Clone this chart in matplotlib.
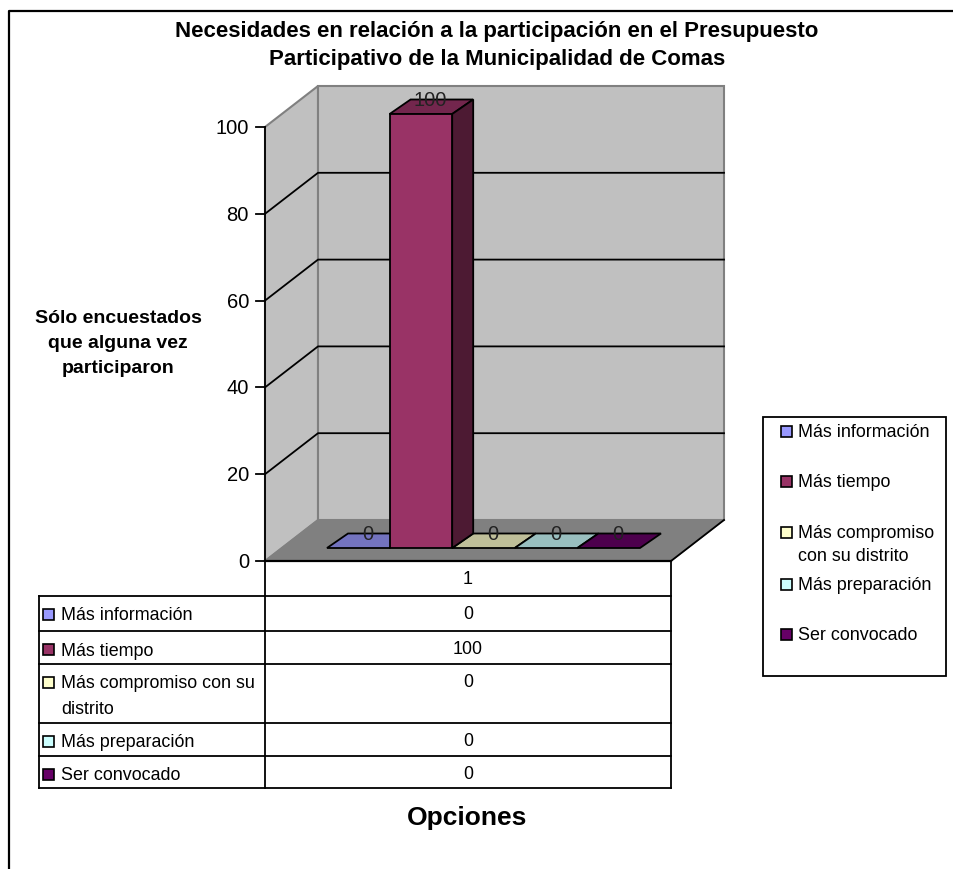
import matplotlib
matplotlib.use("Agg")
import matplotlib.pyplot as plt
from matplotlib.patches import Polygon, Rectangle

plt.rcParams['font.family'] = ['Liberation Sans', 'DejaVu Sans']

# datos del grafico
titulo = "Necesidades en relación a la participación en el Presupuesto\nParticipativo de la Municipalidad de Comas"
eje_y = "Sólo encuestados\nque alguna vez\nparticiparon"
eje_x = "Opciones"
categoria = "1"
series = ["Más información", "Más tiempo", "Más compromiso con su\ndistrito", "Más preparación", "Ser convocado"]
series_leyenda = ["Más información", "Más tiempo", "Más compromiso\ncon su distrito", "Más preparación", "Ser convocado"]
valores = [0, 100, 0, 0, 0]
ticks_y = [0, 20, 40, 60, 80, 100]
colores = ["#9999FF", "#993366", "#FFFFCC", "#CCFFFF", "#660066"]

W, H = 954, 869
fig = plt.figure(figsize=(W / 100, H / 100), dpi=100)
ax = fig.add_axes([0, 0, 1, 1])
ax.set_xlim(0, W)
ax.set_ylim(H, 0)
ax.axis("off")

# geometria de la caja 3D en pixeles
X0, X1 = 265, 671
Y0 = 561
PX_UNIDAD = 4.34
DX, DY = 53, -41
BDX, BDY = 21, -14.5
BAR_Y = 548
BAR_X0 = 327
BAR_W = 62.6
LW = 1.3


def oscurecer(color, f):
    r, g, b = matplotlib.colors.to_rgb(color)
    return (r * f, g * f, b * f)


def py(v):
    return Y0 - v * PX_UNIDAD


top = py(ticks_y[-1])
GRIS = "#808080"

# marco exterior (sin borde derecho)
ax.plot([9, 9, W], [H, 11, 11], color="black", lw=1.6)

# paredes y piso
ax.add_patch(Polygon([(X0, Y0), (X0 + DX, Y0 + DY), (X0 + DX, top + DY), (X0, top)], fc="#C0C0C0", ec=GRIS, lw=1.5))
ax.add_patch(Polygon([(X0 + DX, Y0 + DY), (X1 + DX, Y0 + DY), (X1 + DX, top + DY), (X0 + DX, top + DY)], fc="#C0C0C0", ec=GRIS, lw=1.5))
ax.add_patch(Polygon([(X0, Y0), (X1, Y0), (X1 + DX, Y0 + DY), (X0 + DX, Y0 + DY)], fc=GRIS, ec=GRIS, lw=1))
ax.plot([X1, X1 + DX], [Y0, Y0 + DY], color="black", lw=LW)

# lineas de rejilla y marcas del eje
for t in ticks_y:
    y = py(t)
    if 0 < t < 100:
        ax.plot([X0, X0 + DX, X1 + DX], [y, y + DY, y + DY], color="black", lw=LW)
    ax.plot([X0 - 9, X0], [y, y], color="black", lw=LW)
    ax.text(X0 - 16, y + 1.5, str(t), ha="right", va="center", fontsize=14.5)
ax.plot([X0, X0], [top, Y0], color="black", lw=LW)

# barras
orden = [i for i, v in enumerate(valores) if v == 0] + [i for i, v in enumerate(valores) if v > 0]
for i in orden:
    x = BAR_X0 + i * BAR_W
    y = py(valores[i]) - (Y0 - BAR_Y)
    c = colores[i]
    ax.add_patch(Polygon([(x, y), (x + BAR_W, y), (x + BAR_W + BDX, y + BDY), (x + BDX, y + BDY)],
                         fc=oscurecer(c, 0.75), ec="black", lw=LW, zorder=3))
    if valores[i] > 0:
        ax.add_patch(Polygon([(x + BAR_W, y), (x + BAR_W + BDX, y + BDY), (x + BAR_W + BDX, BAR_Y + BDY), (x + BAR_W, BAR_Y)],
                             fc=oscurecer(c, 0.5), ec="black", lw=LW, zorder=3))
        ax.add_patch(Rectangle((x, y), BAR_W, BAR_Y - y, fc=c, ec="black", lw=LW, zorder=3))
for i in range(len(valores)):
    x = BAR_X0 + i * BAR_W + BAR_W / 2 + BDX / 2 - 1
    y = py(valores[i]) - (Y0 - BAR_Y) + BDY
    ax.text(x, y + 0.5, str(valores[i]), ha="center", va="center", fontsize=14.5, zorder=4, color="#222222")

# tabla de datos
filas = [Y0, 596, 631, 664, 722.5, 756, 788]
TX0 = 39
ax.plot([X0, X0], [Y0, filas[-1]], color="black", lw=LW)
ax.plot([X1, X1], [Y0, filas[-1]], color="black", lw=LW)
ax.plot([TX0, TX0], [filas[1], filas[-1]], color="black", lw=LW)
ax.plot([X0, X1], [Y0, Y0], color="black", lw=1.6)
for y in filas[1:]:
    ax.plot([TX0, X1], [y, y], color="black", lw=LW)
XC = (X0 + X1) / 2
ax.text(XC, 579, categoria, ha="center", va="center", fontsize=12.9)
for i, s in enumerate(series):
    yc = filas[i + 1] + 18
    ax.add_patch(Rectangle((43, yc - 5), 11, 11, fc=colores[i], ec="black", lw=1.2))
    ax.text(61, yc + 2 + s.count("\n") * 12.5, s, ha="left", va="center", fontsize=12.9, linespacing=1.63)
    ax.text(XC, yc + 0.5, str(valores[i]), ha="center", va="center", fontsize=12.9)

# leyenda
ax.add_patch(Rectangle((763, 417), 183, 259, fc="white", ec="black", lw=LW))
ley_y = [431, 481, 532, 584, 634]
for s, c, y in zip(series_leyenda, colores, ley_y):
    ax.add_patch(Rectangle((781, y - 5), 11, 11, fc=c, ec="black", lw=1.2))
    ax.text(798, y + 1.5 + s.count("\n") * 11.5, s, ha="left", va="center", fontsize=12.9, linespacing=1.5)

# titulos
ax.text(497, 45.5, titulo, ha="center", va="center", fontsize=16, fontweight="bold", linespacing=1.5)
ax.text(118, 343.5, eje_y, ha="center", va="center", fontsize=14, fontweight="bold", linespacing=1.62)
ax.text(467, 817.5, eje_x, ha="center", va="center", fontsize=19, fontweight="bold")

fig.savefig("out.png", dpi=100)
